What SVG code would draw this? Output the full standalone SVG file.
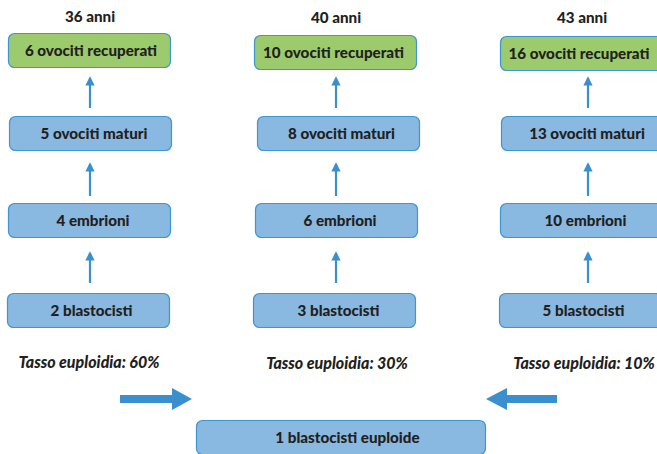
<svg xmlns="http://www.w3.org/2000/svg" width="657" height="454" viewBox="0 0 657 454">
<defs>
<style>
.g{fill:#9bcb6d;stroke:#3d95d2;stroke-width:1.2}
.b{fill:#89b8e1;stroke:#3d95d2;stroke-width:1.2}
.t{font-family:Lato,"Open Sans","Liberation Sans",sans-serif;font-weight:900;font-size:15.2px;fill:#231f20;text-anchor:middle}
.i{font-family:Lato,"Open Sans","Liberation Sans",sans-serif;font-weight:900;font-style:italic;font-size:16px;fill:#231f20;text-anchor:middle}
.c{stroke:#3a8fcf;stroke-width:2.2;fill:none;marker-end:url(#ah)}
.big{fill:#3a8fcf}
</style>
<marker id="ah" viewBox="0 0 10 10" refX="8" refY="5" markerWidth="4.5" markerHeight="4.2" orient="auto" markerUnits="strokeWidth">
<path d="M0,0 L10,5 L0,10 z" fill="#3a8fcf"/>
</marker>
</defs>
<rect width="657" height="454" fill="#ffffff"/>
<g id="headers">
<text class="t" x="90" y="22">36 anni</text>
<text class="t" x="336" y="23">40 anni</text>
<text class="t" x="582" y="23">43 anni</text>
</g>
<g id="connectors">
<line class="c" x1="90" y1="108" x2="90" y2="78"/>
<line class="c" x1="90" y1="196" x2="90" y2="164"/>
<line class="c" x1="90" y1="283" x2="90" y2="253"/>
<line class="c" x1="336" y1="108" x2="336" y2="78"/>
<line class="c" x1="336" y1="196" x2="336" y2="164"/>
<line class="c" x1="336" y1="283" x2="336" y2="253"/>
<line class="c" x1="588" y1="108" x2="588" y2="78"/>
<line class="c" x1="588" y1="196" x2="588" y2="164"/>
<line class="c" x1="588" y1="283" x2="588" y2="253"/>
<polygon class="big" points="120,395 172,395 172,388 192,399 172,410 172,403 120,403"/>
<polygon class="big" points="557,395 507,395 507,388 486,399 507,410 507,403 557,403"/>
</g>
<g id="n36-recuperati"><rect class="g" x="8.5" y="33.5" width="162" height="34" rx="6"/><text class="t" x="91" y="56">6 ovociti recuperati</text></g>
<g id="n36-maturi"><rect class="b" x="9.5" y="116.5" width="162" height="34" rx="6"/><text class="t" x="94" y="139">5 ovociti maturi</text></g>
<g id="n36-embrioni"><rect class="b" x="8.5" y="203.5" width="162" height="34" rx="6"/><text class="t" x="93" y="226">4 embrioni</text></g>
<g id="n36-blastocisti"><rect class="b" x="7.5" y="293.5" width="162" height="34" rx="6"/><text class="t" x="91.5" y="316">2 blastocisti</text></g>
<g id="n40-recuperati"><rect class="g" x="254.5" y="35.5" width="162" height="34" rx="6"/><text class="t" x="333.5" y="58">10 ovociti recuperati</text></g>
<g id="n40-maturi"><rect class="b" x="257.5" y="116.5" width="162" height="34" rx="6"/><text class="t" x="341.5" y="139">8 ovociti maturi</text></g>
<g id="n40-embrioni"><rect class="b" x="255.5" y="203.5" width="162" height="34" rx="6"/><text class="t" x="340" y="226">6 embrioni</text></g>
<g id="n40-blastocisti"><rect class="b" x="253.5" y="293.5" width="162" height="34" rx="6"/><text class="t" x="338.5" y="316">3 blastocisti</text></g>
<g id="n43-recuperati"><rect class="g" x="500.5" y="36.5" width="162" height="34" rx="6"/><text class="t" x="579" y="59">16 ovociti recuperati</text></g>
<g id="n43-maturi"><rect class="b" x="501.5" y="116.5" width="162" height="34" rx="6"/><text class="t" x="587" y="139">13 ovociti maturi</text></g>
<g id="n43-embrioni"><rect class="b" x="500.5" y="203.5" width="162" height="34" rx="6"/><text class="t" x="585.5" y="226">10 embrioni</text></g>
<g id="n43-blastocisti"><rect class="b" x="499.5" y="293.5" width="162" height="34" rx="6"/><text class="t" x="583.5" y="316">5 blastocisti</text></g>
<g id="rates">
<text class="i" x="89" y="368">Tasso euploidia: 60%</text>
<text class="i" x="337" y="369">Tasso euploidia: 30%</text>
<text class="i" x="584" y="369">Tasso euploidia: 10%</text>
</g>
<g id="n-euploide"><rect class="b" x="196.5" y="420.5" width="289" height="34" rx="6"/><text class="t" x="347.5" y="443">1 blastocisti euploide</text></g>
</svg>
